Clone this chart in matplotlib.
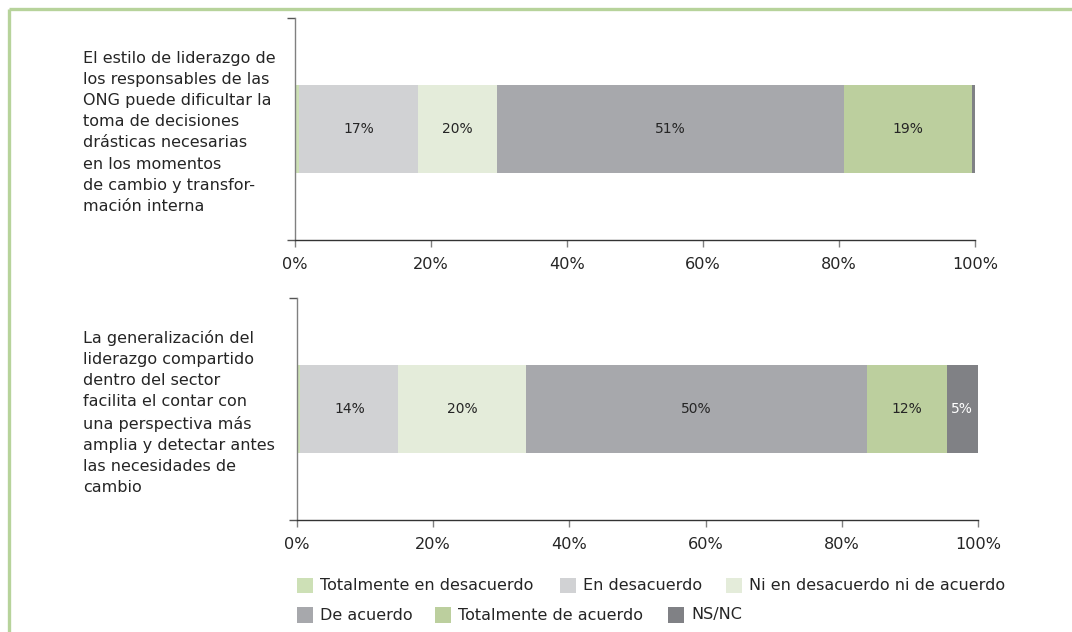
import matplotlib
matplotlib.use("Agg")
import matplotlib.pyplot as plt
from matplotlib.patches import Rectangle
from matplotlib.lines import Line2D
from matplotlib.transforms import blended_transform_factory

plt.rcParams['font.family'] = ['DejaVu Sans']

# Response categories (stack order, left to right)
categories = [
    "Totalmente en desacuerdo",
    "En desacuerdo",
    "Ni en desacuerdo ni de acuerdo",
    "De acuerdo",
    "Totalmente de acuerdo",
    "NS/NC",
]
colors = ["#cde0b6", "#d1d2d4", "#e4ecda", "#a7a8ac", "#bccf9e", "#808185"]

# Statements
statement_1 = ("El estilo de liderazgo de\nlos responsables de las\nONG puede dificultar la\n"
               "toma de decisiones\ndrásticas necesarias\nen los momentos\n"
               "de cambio y transfor-\nmación interna")
statement_2 = ("La generalización del\nliderazgo compartido\ndentro del sector\n"
               "facilita el contar con\nuna perspectiva más\namplia y detectar antes\n"
               "las necesidades de\ncambio")

# Shares (%) per category
values_1 = [0.6, 17.5, 11.6, 51.1, 18.8, 0.4]
values_2 = [0.5, 14.4, 18.8, 50.0, 11.7, 4.6]

# Printed segment labels
labels_1 = ["", "17%", "20%", "51%", "19%", ""]
labels_2 = ["", "14%", "20%", "50%", "12%", "5%"]

x_ticks = [0, 20, 40, 60, 80, 100]
x_ticklabels = ["0%", "20%", "40%", "60%", "80%", "100%"]

W, H = 1072, 632
fig = plt.figure(figsize=(W / 100, H / 100), dpi=100)

# Green frame (top and left edges)
fig.add_artist(Line2D([9 / W, 1.0], [1 - 9 / H, 1 - 9 / H], transform=fig.transFigure,
                      color="#b7d39b", lw=2.4, solid_capstyle="butt"))
fig.add_artist(Line2D([9 / W, 9 / W], [0.0, 1 - 9 / H], transform=fig.transFigure,
                      color="#b7d39b", lw=2.4, solid_capstyle="butt"))

text_color = "#252525"


def draw_panel(rect, values, labels, statement):
    ax = fig.add_axes(rect)
    left = 0.0
    for val, col, lab in zip(values, colors, labels):
        ax.barh(0, val, left=left, height=0.4, color=col, edgecolor="none")
        if lab:
            tc = "white" if col == colors[-1] else text_color
            ax.text(left + val / 2, 0, lab, ha="center", va="center",
                    fontsize=10, color=tc)
        left += val
    ax.set_xlim(0, 100)
    ax.set_ylim(-0.5, 0.5)
    ax.set_xticks(x_ticks)
    ax.set_xticklabels(x_ticklabels, fontsize=11.6, color=text_color)
    ax.set_yticks([-0.5, 0.5])
    ax.set_yticklabels([])
    ax.tick_params(axis="x", direction="out", length=5, width=1, color="#808080", pad=7.5)
    ax.tick_params(axis="y", direction="out", length=6, width=1, color="#555555")
    for s in ("top", "right"):
        ax.spines[s].set_visible(False)
    ax.spines["left"].set_color("#808080")
    ax.spines["left"].set_linewidth(1)
    ax.spines["bottom"].set_color("#333333")
    ax.spines["bottom"].set_linewidth(1)
    ax.set_facecolor("none")
    tr = blended_transform_factory(fig.transFigure, ax.transData)
    ax.text(83 / W, -0.015, statement, transform=tr, ha="left", va="center",
            fontsize=11.5, color=text_color, linespacing=1.51)
    return ax


draw_panel([295 / W, 1 - 240 / H, 680 / W, 222 / H], values_1, labels_1, statement_1)
draw_panel([297 / W, 1 - 520 / H, 681 / W, 222 / H], values_2, labels_2, statement_2)

# Legend, two rows
legend_rows = [
    [(0, 297), (1, 560), (2, 726)],
    [(3, 297), (4, 435), (5, 668)],
]
row_centers = [585.5, 615]
sq = 15.5
for row, yc in zip(legend_rows, row_centers):
    for idx, xpx in row:
        fig.add_artist(Rectangle((xpx / W, 1 - (yc + sq / 2) / H), sq / W, sq / H,
                                 transform=fig.transFigure, facecolor=colors[idx],
                                 edgecolor="none"))
        fig.text((xpx + 23) / W, 1 - yc / H, categories[idx], ha="left", va="center",
                 fontsize=11.5, color=text_color)

fig.savefig("out.png", dpi=100, facecolor="white")
